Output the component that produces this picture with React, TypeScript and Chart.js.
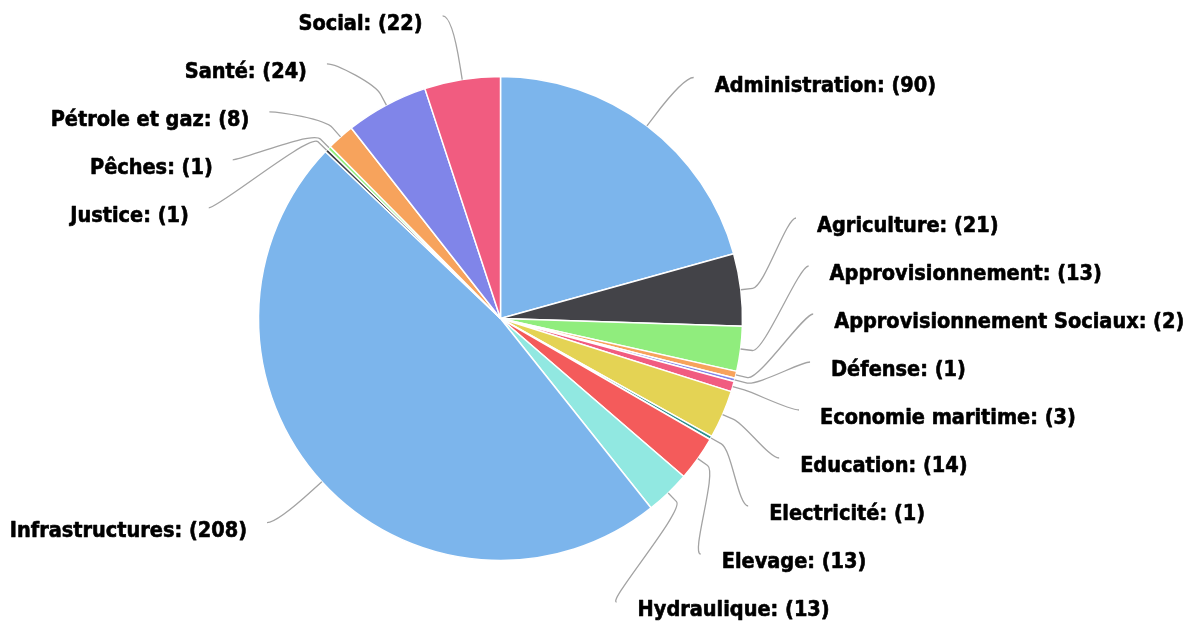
import React, { useEffect, useRef } from 'react';
import { Chart, registerables } from 'chart.js';

Chart.register(...registerables);

const categories = [
  'Administration',
  'Agriculture',
  'Approvisionnement',
  'Approvisionnement Sociaux',
  'Défense',
  'Economie maritime',
  'Education',
  'Electricité',
  'Elevage',
  'Hydraulique',
  'Infrastructures',
  'Justice',
  'Pêches',
  'Pétrole et gaz',
  'Santé',
  'Social',
];

const values = [90, 21, 13, 2, 1, 3, 14, 1, 13, 13, 208, 1, 1, 8, 24, 22];

const colors = [
  '#7cb5ec', '#434348', '#90ed7d', '#f7a35c', '#8085e9', '#f15c80', '#e4d354', '#2b908f',
  '#f45b5b', '#91e8e1', '#7cb5ec', '#434348', '#90ed7d', '#f7a35c', '#8085e9', '#f15c80',
];

const LABEL_FONT = 'bold 21.5px "DejaVu Sans Condensed", "DejaVu Sans", sans-serif';

type Item = { i: number; a: number; cos: number; sin: number; target: number; y: number };

function distribute(items: Item[], top: number, bottom: number, gap: number) {
  items.sort((p, q) => p.target - q.target);
  type Cl = { items: Item[]; start: number };
  const place = (c: Cl) => {
    const n = c.items.length;
    let s = 0;
    c.items.forEach((it, k) => (s += it.target - k * gap));
    s /= n;
    s = Math.max(top, Math.min(s, bottom - (n - 1) * gap));
    c.start = s;
  };
  let cls: Cl[] = items.map((it) => ({ items: [it], start: it.target }));
  cls.forEach(place);
  let merged = true;
  while (merged) {
    merged = false;
    for (let k = 0; k < cls.length - 1; k++) {
      const a = cls[k];
      const b = cls[k + 1];
      if (a.start + a.items.length * gap > b.start + 0.001) {
        const c: Cl = { items: a.items.concat(b.items), start: 0 };
        place(c);
        cls.splice(k, 2, c);
        merged = true;
        break;
      }
    }
  }
  cls.forEach((c) => c.items.forEach((it, k) => (it.y = c.start + k * gap)));
}

const labelPlugin = {
  id: 'pieLabels',
  afterDatasetsDraw(chart: any) {
    const meta = chart.getDatasetMeta(0);
    const arcs = meta.data;
    if (!arcs || !arcs.length) return;
    const ctx: CanvasRenderingContext2D = chart.ctx;
    const cx = arcs[0].x;
    const cy = arcs[0].y;
    const r = arcs[0].outerRadius;
    const R0 = r + 60.7;
    const gap = 48;
    const top = cy - R0;
    const bottom = chart.height - 21;
    const right: Item[] = [];
    const left: Item[] = [];
    arcs.forEach((arc: any, i: number) => {
      const a = (arc.startAngle + arc.endAngle) / 2;
      const it: Item = { i, a, cos: Math.cos(a), sin: Math.sin(a), target: cy + Math.sin(a) * R0, y: 0 };
      if (it.cos >= 0) right.push(it);
      else left.push(it);
    });
    distribute(right, top, bottom, gap);
    distribute(left, top, bottom, gap);

    ctx.save();
    const draw = (it: Item, side: number) => {
      const y = it.y;
      const dyx = Math.abs(y - top) < 0.01 ? it.target - cy : y - cy;
      const ex = cx + side * (Math.sqrt(Math.max(0, R0 * R0 - dyx * dyx)) + 10);
      const p4x = cx + it.cos * r;
      const p4y = cy + it.sin * r;
      const p2x = cx + it.cos * (r + 12);
      const p2y = cy + it.sin * (r + 12);
      const c2x = cx + it.cos * (r + 24);
      const c2y = cy + it.sin * (r + 24);
      ctx.beginPath();
      ctx.moveTo(ex, y);
      ctx.bezierCurveTo(ex - side * 10, y, c2x, c2y, p2x, p2y);
      ctx.lineTo(p4x, p4y);
      ctx.strokeStyle = '#a3a3a3';
      ctx.lineWidth = 1.3;
      ctx.stroke();

      ctx.font = LABEL_FONT;
      ctx.fillStyle = '#000000';
      ctx.strokeStyle = '#000000';
      ctx.lineWidth = 0.6;
      ctx.lineJoin = 'round';
      ctx.textBaseline = 'alphabetic';
      ctx.textAlign = side > 0 ? 'left' : 'right';
      const text = `${categories[it.i]}: (${values[it.i]})`;
      const tx = side > 0 ? ex + 21 : ex - 20;
      ctx.fillText(text, tx, y + 14);
      ctx.strokeText(text, tx, y + 14);
    };
    right.forEach((it) => draw(it, 1));
    left.forEach((it) => draw(it, -1));
    ctx.restore();
  },
};

export default function App() {
  const ref = useRef<HTMLCanvasElement | null>(null);
  useEffect(() => {
    if (!ref.current) return;
    const chart = new Chart(ref.current, {
      type: 'pie',
      data: {
        labels: categories,
        datasets: [
          {
            data: values,
            backgroundColor: colors,
            borderColor: '#ffffff',
            borderWidth: 1.5,
          },
        ],
      },
      options: {
        responsive: false,
        animation: false,
        radius: 242,
        layout: { padding: { left: 200, right: 397, top: 68, bottom: 54 } },
        plugins: {
          legend: { display: false },
          tooltip: { enabled: false },
        },
      } as any,
      plugins: [labelPlugin],
    });
    return () => chart.destroy();
  }, []);
  return (
    <div style={{ position: 'fixed', left: 0, top: 0, width: 1198, height: 623, background: '#ffffff' }}>
      <canvas ref={ref} width={1198} height={623} style={{ width: 1198, height: 623, display: 'block' }} />
    </div>
  );
}
